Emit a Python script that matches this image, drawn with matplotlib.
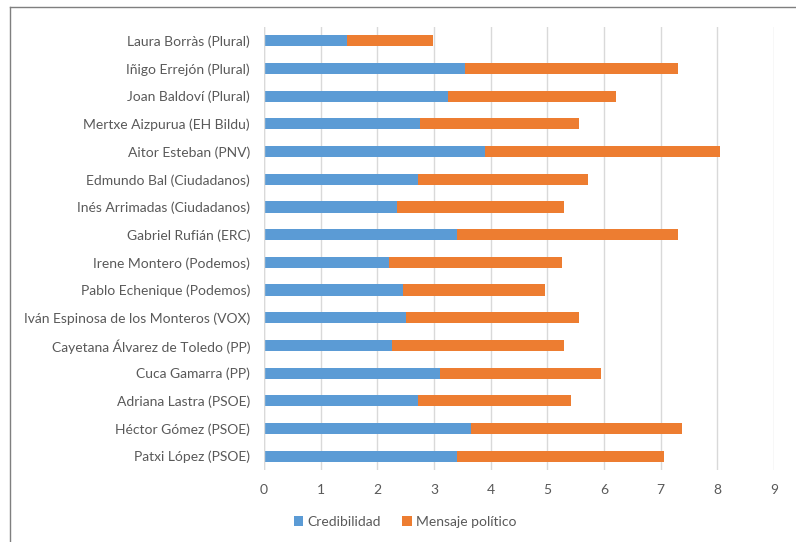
import matplotlib
matplotlib.use("Agg")
import matplotlib.pyplot as plt
from matplotlib.lines import Line2D
from matplotlib.patches import Patch

plt.rcParams['font.family'] = ['Lato', 'DejaVu Sans']

categories = [
    "Laura Borràs (Plural)",
    "Iñigo Errejón (Plural)",
    "Joan Baldoví (Plural)",
    "Mertxe Aizpurua (EH Bildu)",
    "Aitor Esteban (PNV)",
    "Edmundo Bal (Ciudadanos)",
    "Inés Arrimadas (Ciudadanos)",
    "Gabriel Rufián (ERC)",
    "Irene Montero (Podemos)",
    "Pablo Echenique (Podemos)",
    "Iván Espinosa de los Monteros (VOX)",
    "Cayetana Álvarez de Toledo (PP)",
    "Cuca Gamarra (PP)",
    "Adriana Lastra (PSOE)",
    "Héctor Gómez (PSOE)",
    "Patxi López (PSOE)",
]
credibilidad = [1.46, 3.55, 3.25, 2.75, 3.90, 2.71, 2.34, 3.41,
                2.20, 2.45, 2.50, 2.26, 3.10, 2.71, 3.66, 3.41]
mensaje = [1.53, 3.76, 2.96, 2.81, 4.14, 3.00, 2.96, 3.90,
           3.06, 2.50, 3.06, 3.04, 2.85, 2.70, 3.72, 3.64]
series_names = ["Credibilidad", "Mensaje político"]
xticks = list(range(0, 10))

blue = "#5b9bd5"
orange = "#ed7d31"
text_color = "#595959"

fig = plt.figure(figsize=(7.96, 5.42), dpi=100)
ax = fig.add_axes([264/796, 1 - 470/542, (774 - 264)/796, (470 - 27)/542])

y = list(range(len(categories)))
ax.barh(y, credibilidad, height=0.4, color=blue, zorder=3, label=series_names[0])
ax.barh(y, mensaje, left=credibilidad, height=0.4, color=orange, zorder=3, label=series_names[1])

ax.set_ylim(len(categories) - 0.5, -0.5)
ax.set_xlim(0, 9)
ax.set_yticks(y)
ax.set_yticklabels(categories, fontsize=10, color=text_color)
ax.set_xticks(xticks)
ax.set_xticklabels([str(t) for t in xticks], fontsize=10, color=text_color)
ax.tick_params(axis='both', length=0)
ax.tick_params(axis='y', pad=10)
ax.tick_params(axis='x', pad=10)
ax.grid(axis='x', color="#d9d9d9", linewidth=1, zorder=0)
for s in ax.spines.values():
    s.set_visible(False)
ax.axvline(0, color="#d9d9d9", linewidth=1, zorder=4)

handles = [Patch(facecolor=blue), Patch(facecolor=orange)]
fig.legend(handles, series_names, loc='center', bbox_to_anchor=(405/796, 1 - 522/542),
           ncol=2, frameon=False, fontsize=10, labelcolor=text_color,
           handlelength=0.7, handleheight=0.7, handletextpad=0.3, columnspacing=1.5)

# chart border (top and left visible)
fig.add_artist(Line2D([10/796, 1], [1 - 7/542, 1 - 7/542], color="#7f7f7f", linewidth=1,
                      transform=fig.transFigure))
fig.add_artist(Line2D([10/796, 10/796], [0, 1 - 7/542], color="#7f7f7f", linewidth=1,
                      transform=fig.transFigure))

fig.savefig("out.png", dpi=100)
